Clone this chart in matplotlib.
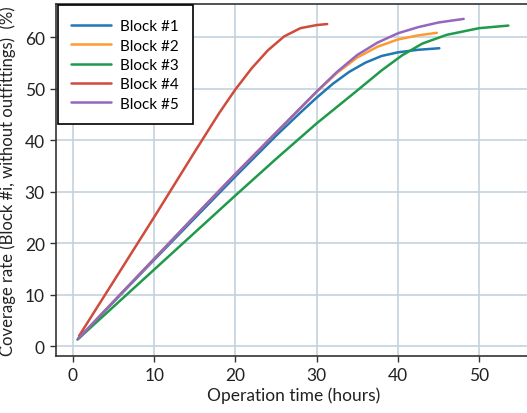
import matplotlib
matplotlib.use("Agg")
import matplotlib.pyplot as plt

plt.rcParams['font.family'] = ['Lato', 'DejaVu Sans']

labels = ["Block #1", "Block #2", "Block #3", "Block #4", "Block #5"]
colors = ["#1f77b4", "#ff9a33", "#1f9a4a", "#cf4b3c", "#9467bd"]

b1_x = [0.67, 5, 10, 15, 20, 25, 28, 30, 32, 34, 36, 38, 40, 42.5, 45.1]
b1_y = [1.5, 8.6, 16.8, 24.9, 33.0, 40.9, 45.4, 48.3, 51.0, 53.3, 55.1, 56.4, 57.1, 57.6, 57.9]

b2_x = [0.67, 5, 10, 15, 20, 25, 30, 32.5, 35, 37.5, 40, 42.5, 44.8]
b2_y = [1.5, 8.7, 17.0, 25.3, 33.5, 41.5, 49.4, 53.1, 56.1, 58.2, 59.6, 60.4, 60.9]

b3_x = [0.55, 5, 10, 15, 20, 25, 30, 35, 38, 40.5, 43, 46, 50, 53.6]
b3_y = [1.3, 7.7, 14.9, 22.1, 29.3, 36.4, 43.3, 49.7, 53.6, 56.5, 58.8, 60.5, 61.8, 62.3]

b4_x = [0.75, 5, 10, 15, 18, 20, 22, 24, 26, 28, 30, 31.3]
b4_y = [2.0, 12.6, 25.1, 37.8, 45.3, 49.9, 54.0, 57.5, 60.2, 61.8, 62.4, 62.6]

b5_x = [0.67, 5, 10, 15, 20, 25, 30, 32.5, 35, 37.5, 40, 42.5, 45, 48.1]
b5_y = [1.5, 8.7, 17.0, 25.3, 33.5, 41.5, 49.5, 53.3, 56.6, 59.0, 60.8, 62.0, 62.9, 63.6]

xticks = [0, 10, 20, 30, 40, 50]
yticks = [0, 10, 20, 30, 40, 50, 60]

fig = plt.figure(figsize=(5.27, 4.14), dpi=100)
ax = fig.add_axes([0.1063, 0.137, 0.9, 0.851])

series = [(b1_x, b1_y), (b2_x, b2_y), (b3_x, b3_y), (b4_x, b4_y), (b5_x, b5_y)]
for (xs, ys), lab, c in zip(series, labels, colors):
    ax.plot(xs, ys, color=c, lw=1.8, label=lab, solid_capstyle='round', solid_joinstyle='round')

ax.set_xlim(-2.08, 56.3)
ax.set_ylim(-1.94, 66.5)
ax.set_xticks(xticks)
ax.set_yticks(yticks)
ax.grid(True, color="#c3d3de", lw=1.2)
ax.set_axisbelow(True)

for s in ['left', 'bottom', 'top']:
    ax.spines[s].set_color('#333333')
    ax.spines[s].set_linewidth(1.2)
ax.spines['right'].set_visible(False)

ax.tick_params(axis='both', labelsize=12.5, length=4, width=1, color='#333333', labelcolor='#222222', pad=4)
ax.set_xlabel("Operation time (hours)", fontsize=12.5, color='#222222', labelpad=2)
ax.set_ylabel("Coverage rate (Block #i, without outfittings)  (%)", fontsize=12, color='#222222', labelpad=4)
ax.yaxis.set_label_coords(-0.085, 0.5)

leg = ax.legend(loc='upper left', borderaxespad=0.1, fontsize=11, fancybox=False,
                framealpha=1, edgecolor='black', handlelength=2.6, labelspacing=0.35,
                borderpad=0.9, handletextpad=0.6)
leg.get_frame().set_linewidth(1.2)

fig.savefig("out.png", dpi=100)
